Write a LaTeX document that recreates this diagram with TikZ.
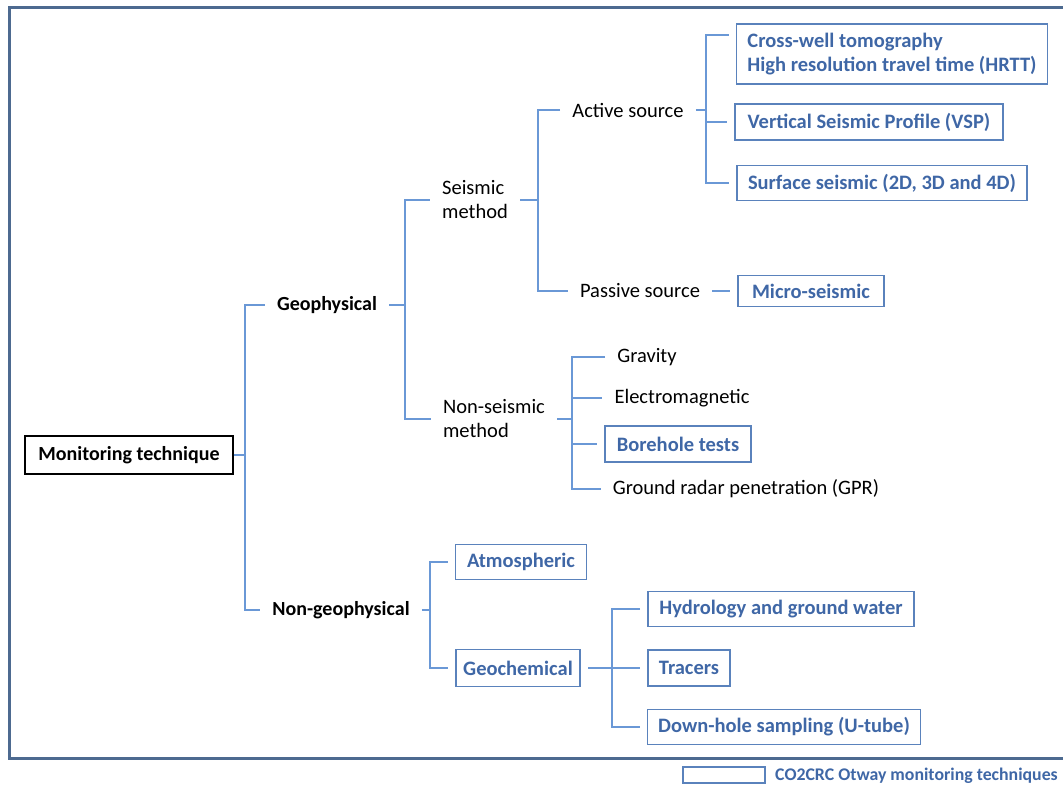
\documentclass[tikz,border=0pt]{standalone}
\usepackage{fontspec}
\setmainfont{Carlito}
\definecolor{conn}{HTML}{6A98D6}
\definecolor{boxb}{HTML}{5A82BC}
\definecolor{bluetxt}{HTML}{3F67A6}
\definecolor{frame}{HTML}{4D6A90}
\tikzset{
  connline/.style={draw=conn, line width=1.3pt},
  tnode/.style={inner xsep=12pt, inner ysep=2pt, font=\fontsize{20.5}{24}\selectfont, text=black},
  tbold/.style={tnode, font=\fontsize{20}{24}\selectfont\bfseries},
  bbox/.style={draw=boxb, line width=1.3pt, outer xsep=8pt, inner sep=0pt,
     font=\fontsize{20.5}{24.5}\selectfont\bfseries, text=bluetxt, align=left},
}
\begin{document}
\begin{tikzpicture}[x=1pt,y=-1pt]
\useasboundingbox (0,0) rectangle (1063,785);
% outer frame
\draw[frame, line width=3pt] (1070,7) -- (9,7) -- (9,758) -- (1070,758);

% root
\node[draw=black, line width=1.3pt, minimum width=208pt, minimum height=38pt, inner sep=0pt,
  font=\fontsize{20}{24}\selectfont\bfseries] (mt) at (129,455) {Monitoring technique};

% level 1
\node[tbold] (geo) at (327,305) {Geophysical};
\node[tbold] (ngeo) at (341,610) {Non-geophysical};

% level 2
\node[tnode, align=left] (sm) at (475,200) {Seismic\\method};
\node[tnode, align=left] (nsm) at (494,419) {Non-seismic\\method};
\node[bbox, minimum width=131pt, minimum height=35pt] (atm) at (521,562) {Atmospheric};
\node[bbox, minimum width=124pt, minimum height=37pt] (gch) at (518,668) {Geochemical};

% level 3
\node[tnode] (act) at (628,110) {Active source};
\node[tnode] (pas) at (640,291) {Passive source};
\node[tnode] (grav) at (647,357) {Gravity};
\node[tnode] (em) at (682,398) {Electromagnetic};
\node[bbox, minimum width=146pt, minimum height=36pt] (bh) at (678,444) {Borehole tests};
\node[tnode] (gpr) at (746,489) {Ground radar penetration (GPR)};
\node[bbox, minimum width=266pt, minimum height=35pt] (hyd) at (781,609) {Hydrology and ground water};
\node[bbox, minimum width=82pt, minimum height=36pt] (tr) at (689,668) {Tracers};
\node[bbox, minimum width=273pt, minimum height=35pt] (dh) at (784,727) {Down-hole sampling (U-tube)};

% level 4
\node[bbox, minimum width=311pt, minimum height=60pt] (cw) at (892,54)
  {Cross-well tomography\\High resolution travel time (HRTT)};
\node[bbox, minimum width=268pt, minimum height=36pt] (vsp) at (869,122) {Vertical Seismic Profile (VSP)};
\node[bbox, minimum width=290pt, minimum height=35pt] (ss) at (882,183) {Surface seismic (2D, 3D and 4D)};
\node[bbox, minimum width=146pt, minimum height=31pt] (ms) at (811,291) {Micro-seismic};

% bracket x positions
\coordinate (x1) at (245,0);
\coordinate (x2) at (405,0);
\coordinate (x3) at (538,0);
\coordinate (x4) at (706,0);
\coordinate (x5) at (572,0);
\coordinate (x6) at (430,0);
\coordinate (x7) at (612,0);
\coordinate (cwy) at ([yshift=19pt]cw.west);

% root bracket
\draw[connline] (mt.east) -- (mt.east -| x1);
\draw[connline] (geo.west) -| (x1 |- mt.east) |- (ngeo.west);
% geophysical
\draw[connline] (geo.east) -- (geo.east -| x2);
\draw[connline] (sm.west) -| (x2 |- geo.east) |- (nsm.west);
% seismic
\draw[connline] (sm.east) -- (sm.east -| x3);
\draw[connline] (act.west) -| (x3 |- sm.east) |- (pas.west);
% active
\draw[connline] (act.east) -- (act.east -| x4);
\draw[connline] (cwy) -| (x4 |- act.east) |- (ss.west);
\draw[connline] (vsp.west -| x4) -- (vsp.west);
% passive
\draw[connline] (pas.east) -- (ms.west);
% non-seismic
\draw[connline] (nsm.east) -- (nsm.east -| x5);
\draw[connline] (grav.west) -| (x5 |- nsm.east) |- (gpr.west);
\draw[connline] (em.west -| x5) -- (em.west);
\draw[connline] (bh.west -| x5) -- (bh.west);
% non-geophysical
\draw[connline] (ngeo.east) -- (ngeo.east -| x6);
\draw[connline] (atm.west) -| (x6 |- ngeo.east) |- (gch.west);
% geochemical
\draw[connline] (gch.east) -- (tr.west);
\draw[connline] (hyd.west) -| (x7 |- tr.west) |- (dh.west);

% legend
\node[draw=boxb, line width=1.2pt, minimum width=82pt, minimum height=16pt, inner sep=0pt] (lg) at (724,775) {};
\node[anchor=west, inner sep=0pt, font=\fontsize{17.8}{20}\selectfont\bfseries, text=bluetxt] (lgt) at (775,776) {CO2CRC Otway monitoring techniques};
\end{tikzpicture}
\end{document}
